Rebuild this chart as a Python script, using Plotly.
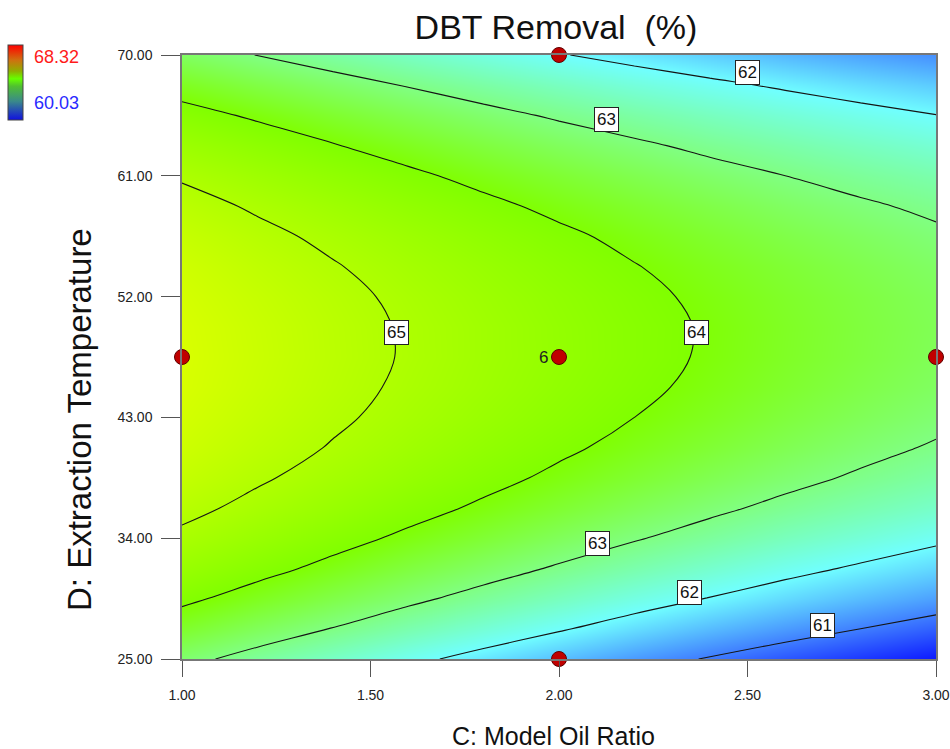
import plotly.graph_objects as go

# ---- data ----
C_vals = [1.0, 1.2, 1.4, 1.6, 1.8, 2.0, 2.2, 2.4, 2.6, 2.8, 3.0]
D_vals = [25.0, 27.25, 29.5, 31.75, 34.0, 36.25, 38.5, 40.75, 43.0, 45.25, 47.5,
          49.75, 52.0, 54.25, 56.5, 58.75, 61.0, 63.25, 65.5, 67.75, 70.0]

# DBT removal (%) estimated on the grid, one row per D value (bottom -> top)
z_25_00 = [63.16, 62.80, 62.46, 62.13, 61.82, 61.52, 61.23, 60.96, 60.70, 60.46, 60.23]
z_27_25 = [63.67, 63.31, 62.98, 62.65, 62.34, 62.05, 61.76, 61.49, 61.24, 61.00, 60.77]
z_29_50 = [64.12, 63.77, 63.44, 63.12, 62.81, 62.52, 62.24, 61.98, 61.73, 61.49, 61.27]
z_31_75 = [64.52, 64.18, 63.85, 63.53, 63.23, 62.94, 62.67, 62.41, 62.16, 61.93, 61.71]
z_34_00 = [64.87, 64.53, 64.20, 63.89, 63.60, 63.31, 63.04, 62.79, 62.54, 62.32, 62.10]
z_36_25 = [65.17, 64.83, 64.51, 64.20, 63.91, 63.63, 63.36, 63.11, 62.87, 62.65, 62.44]
z_38_50 = [65.41, 65.08, 64.76, 64.46, 64.17, 63.89, 63.63, 63.38, 63.15, 62.93, 62.72]
z_40_75 = [65.60, 65.27, 64.96, 64.66, 64.37, 64.10, 63.84, 63.60, 63.37, 63.15, 62.95]
z_43_00 = [65.73, 65.41, 65.10, 64.81, 64.53, 64.26, 64.00, 63.77, 63.54, 63.33, 63.13]
z_45_25 = [65.82, 65.50, 65.19, 64.90, 64.63, 64.36, 64.11, 63.88, 63.66, 63.45, 63.26]
z_47_50 = [65.85, 65.54, 65.23, 64.95, 64.67, 64.42, 64.17, 63.94, 63.72, 63.52, 63.33]
z_49_75 = [65.83, 65.52, 65.22, 64.94, 64.67, 64.41, 64.17, 63.95, 63.73, 63.53, 63.35]
z_52_00 = [65.75, 65.45, 65.16, 64.88, 64.61, 64.36, 64.12, 63.90, 63.69, 63.50, 63.32]
z_54_25 = [65.63, 65.32, 65.04, 64.76, 64.50, 64.25, 64.02, 63.80, 63.60, 63.41, 63.23]
z_56_50 = [65.45, 65.15, 64.87, 64.60, 64.34, 64.10, 63.87, 63.65, 63.45, 63.27, 63.09]
z_58_75 = [65.22, 64.92, 64.64, 64.37, 64.12, 63.88, 63.66, 63.45, 63.25, 63.07, 62.90]
z_61_00 = [64.93, 64.64, 64.36, 64.10, 63.85, 63.62, 63.40, 63.19, 63.00, 62.82, 62.66]
z_63_25 = [64.59, 64.31, 64.03, 63.78, 63.53, 63.30, 63.09, 62.88, 62.70, 62.52, 62.36]
z_65_50 = [64.20, 63.92, 63.65, 63.40, 63.16, 62.93, 62.72, 62.52, 62.34, 62.17, 62.01]
z_67_75 = [63.76, 63.48, 63.22, 62.97, 62.73, 62.51, 62.30, 62.11, 61.93, 61.76, 61.61]
z_70_00 = [63.26, 62.99, 62.73, 62.48, 62.25, 62.03, 61.83, 61.64, 61.46, 61.30, 61.15]
Z = [z_25_00, z_27_25, z_29_50, z_31_75, z_34_00, z_36_25, z_38_50, z_40_75, z_43_00,
     z_45_25, z_47_50, z_49_75, z_52_00, z_54_25, z_56_50, z_58_75, z_61_00, z_63_25,
     z_65_50, z_67_75, z_70_00]

z_min, z_max = 60.03, 68.32
contour_levels = [61, 62, 63, 64, 65]

# design points
design_C = [1.0, 2.0, 3.0, 2.0, 2.0]
design_D = [47.5, 47.5, 47.5, 25.0, 70.0]
center_count = "6"

# contour label placement (value, C, D)
label_vals = ["65", "64", "63", "62", "63", "62", "61"]
label_C = [1.570, 2.366, 2.127, 2.499, 2.101, 2.347, 2.700]
label_D = [49.36, 49.36, 65.16, 68.66, 33.64, 29.98, 27.53]

x_ticks = [1.0, 1.5, 2.0, 2.5, 3.0]
y_ticks = [25, 34, 43, 52, 61, 70]

# ---- styling ----
FONT = "Arial, Liberation Sans, sans-serif"
colorscale = [
    [0.00, "#0000ff"],
    [0.12, "#4080ff"],
    [0.24, "#70ffff"],
    [0.36, "#80ff80"],
    [0.48, "#80ff00"],
    [0.60, "#b0ff00"],
    [0.70, "#d8ff00"],
    [0.76, "#ffff00"],
    [0.88, "#ff8000"],
    [1.00, "#ff0000"],
]
bar_scale = [
    [0.00, "#1010e0"],
    [0.25, "#3a8a8a"],
    [0.45, "#50c030"],
    [0.55, "#66ff00"],
    [0.65, "#8fb000"],
    [0.80, "#d07010"],
    [1.00, "#ff0000"],
]

W, H = 950, 749
L, R, T, B = 182, 14, 55, 90
PW, PH = W - L - R, H - T - B


def px_x(px):
    return (px - L) / PW


def px_y(py):
    return (H - B - py) / PH


fig = go.Figure()
fig.add_trace(go.Contour(
    x=C_vals, y=D_vals, z=Z,
    zmin=z_min, zmax=z_max, colorscale=colorscale, showscale=False,
    contours=dict(start=contour_levels[0], end=contour_levels[-1], size=1,
                  coloring="heatmap", showlabels=False),
    line=dict(color="#151515", width=1.1, smoothing=1),
    hoverinfo="skip",
))

# colour legend (continuous bar)
fig.add_trace(go.Scatter(
    x=[None], y=[None], mode="markers", showlegend=False, hoverinfo="skip",
    marker=dict(color=[z_min], cmin=z_min, cmax=z_max, colorscale=bar_scale, showscale=True,
                colorbar=dict(xref="paper", yref="paper",
                              x=px_x(8), xanchor="left", y=px_y(45), yanchor="top",
                              len=75 / PH, lenmode="fraction", thickness=15,
                              thicknessmode="pixels",
                              showticklabels=False, ticks="", outlinewidth=1,
                              outlinecolor="#444", xpad=0, ypad=0)),
))

fig.add_trace(go.Scatter(
    x=design_C, y=design_D, mode="markers", cliponaxis=False,
    marker=dict(size=15, color="#c00000", line=dict(color="#600000", width=1)),
    showlegend=False, hoverinfo="skip",
))

annotations = []
for t, cx, dy in zip(label_vals, label_C, label_D):
    annotations.append(dict(x=cx, y=dy, xref="x", yref="y", text=t, showarrow=False,
                            font=dict(family=FONT, size=17, color="#111"),
                            bgcolor="white", bordercolor="#222", borderwidth=1, borderpad=2))
annotations.append(dict(x=design_C[1], y=design_D[1], xref="x", yref="y", text=center_count,
                        showarrow=False, xshift=-16, font=dict(family=FONT, size=17, color="#222")))
# colour legend values
annotations.append(dict(x=px_x(32), y=px_y(57), xref="paper", yref="paper", text="68.32",
                        showarrow=False, xanchor="left", yanchor="middle",
                        font=dict(family=FONT, size=18, color="#ff1a1a")))
annotations.append(dict(x=px_x(32), y=px_y(103), xref="paper", yref="paper", text="60.03",
                        showarrow=False, xanchor="left", yanchor="middle",
                        font=dict(family=FONT, size=18, color="#2a2aff")))
# axis titles
annotations.append(dict(x=px_x(553), y=px_y(736), xref="paper", yref="paper",
                        text="C: Model Oil Ratio", showarrow=False,
                        xanchor="center", yanchor="middle",
                        font=dict(family=FONT, size=25, color="#111")))
annotations.append(dict(x=px_x(80), y=px_y(420), xref="paper", yref="paper",
                        text="D: Extraction Temperature", showarrow=False, textangle=-90,
                        xanchor="center", yanchor="middle",
                        font=dict(family=FONT, size=33, color="#111")))

axis_common = dict(showgrid=False, zeroline=False, ticks="outside", tickcolor="#555",
                   linecolor="#777", linewidth=1.5, mirror=True, tickformat=".2f",
                   automargin=False,
                   tickfont=dict(family=FONT, size=14, color="#222"))

fig.update_layout(
    width=W, height=H, autosize=False,
    margin=dict(l=L, r=R, t=T, b=B, autoexpand=False),
    paper_bgcolor="white", plot_bgcolor="white",
    title=dict(text="DBT Removal \u00a0(%)", x=556 / W, xanchor="center",
               xref="container", yref="container", y=1 - 27 / H, yanchor="middle",
               font=dict(family=FONT, size=34, color="#111")),
    xaxis=dict(range=[1, 3], tickvals=x_ticks, ticklen=16, ticklabelstandoff=6, **axis_common),
    yaxis=dict(range=[25, 70], tickvals=y_ticks, ticklen=19, ticklabelstandoff=6, **axis_common),
    annotations=annotations,
    showlegend=False,
)

fig.write_html("out.html", config={"displayModeBar": False},
               post_script="document.body.style.margin='0px';")
